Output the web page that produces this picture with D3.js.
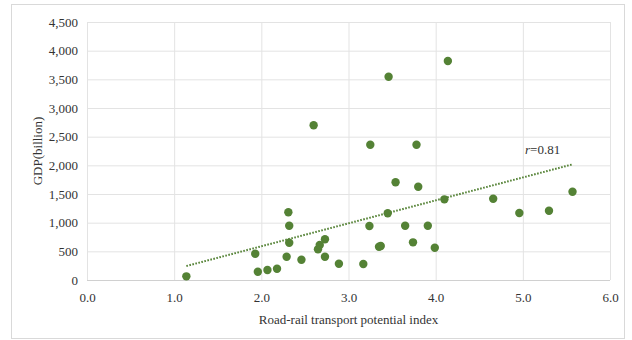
<!DOCTYPE html>
<html>
<head>
<meta charset="utf-8">
<script src="https://cdn.jsdelivr.net/npm/d3@7"></script>
<style>
  body { margin: 0; background: #fff; }
  text { font-family: "Liberation Serif", "Times New Roman", serif; fill: #333; }
</style>
</head>
<body>
<div id="chart"></div>
<script>
// road-rail index vs GDP, one entry per region
let potentialIndex = [1.14, 1.93, 1.96, 2.07, 2.18, 2.29, 2.31, 2.32, 2.32, 2.46,
                      2.60, 2.65, 2.67, 2.73, 2.73, 2.89, 3.17, 3.24, 3.25, 3.35,
                      3.37, 3.45, 3.46, 3.54, 3.65, 3.74, 3.78, 3.80, 3.91, 3.99,
                      4.10, 4.14, 4.66, 4.96, 5.30, 5.57];
let gdpBillion     = [64, 459, 145, 174, 197, 406, 1181, 947, 651, 354,
                      2698, 535, 610, 710, 406, 284, 279, 942, 2360, 581,
                      593, 1163, 3546, 1704, 947, 657, 2360, 1627, 947, 563,
                      1407, 3819, 1418, 1168, 1209, 1540];
let xTicks = [0, 1, 2, 3, 4, 5, 6];
let yTicks = [0, 500, 1000, 1500, 2000, 2500, 3000, 3500, 4000, 4500];
let rLabel = '0.81';

let chart_width  = 632;
let chart_height = 340;
let pLeft = 87, pRight = 610, pTop = 22, pBottom = 280;
let green = '#548235';

let points = potentialIndex.map(function(v, i) {
    return { x: v, y: gdpBillion[i] };
});

let svg = d3.select('#chart')
    .append('svg')
    .attr('width', chart_width)
    .attr('height', chart_height);

// outer frame
svg.append('rect')
    .attr('x', 11.5).attr('y', 4.5)
    .attr('width', 613).attr('height', 334)
    .attr('fill', '#fff')
    .attr('stroke', '#d9d9d9');

let xScale = d3.scaleLinear().domain([0, 6]).range([pLeft, pRight]);
let yScale = d3.scaleLinear().domain([0, 4500]).range([pBottom, pTop]);

// gridlines
svg.append('g')
    .attr('transform', 'translate(0,' + pBottom + ')')
    .call(d3.axisBottom(xScale).tickValues(xTicks).tickSize(-(pBottom - pTop)).tickFormat(''))
    .call(g => g.select('.domain').remove())
    .call(g => g.selectAll('line').attr('stroke', '#e3e3e3'));

svg.append('g')
    .attr('transform', 'translate(' + pLeft + ',0)')
    .call(d3.axisLeft(yScale).tickValues(yTicks).tickSize(-(pRight - pLeft)).tickFormat(''))
    .call(g => g.select('.domain').remove())
    .call(g => g.selectAll('line').attr('stroke', d => d === 0 ? '#d0d0d0' : '#e3e3e3'));

// tick labels
svg.append('g')
    .attr('transform', 'translate(0,' + pBottom + ')')
    .call(d3.axisBottom(xScale).tickValues(xTicks).tickSize(0).tickPadding(13).tickFormat(d3.format('.1f')))
    .call(g => g.select('.domain').remove())
    .call(g => g.selectAll('text').attr('font-size', 13).attr('font-family', '"Liberation Serif", serif').attr('fill', '#404040'));

svg.append('g')
    .attr('transform', 'translate(' + pLeft + ',0)')
    .call(d3.axisLeft(yScale).tickValues(yTicks).tickSize(0).tickPadding(9).tickFormat(d3.format(',')))
    .call(g => g.select('.domain').remove())
    .call(g => g.selectAll('text').attr('font-size', 13).attr('font-family', '"Liberation Serif", serif').attr('fill', '#404040'));

// least-squares trend line
let mx = d3.mean(points, d => d.x);
let my = d3.mean(points, d => d.y);
let slope = d3.sum(points, d => (d.x - mx) * (d.y - my)) / d3.sum(points, d => (d.x - mx) * (d.x - mx));
let xr = d3.extent(points, d => d.x);
let trend = xr.map(v => ({ x: v, y: my + slope * (v - mx) }));

svg.append('path')
    .datum(trend)
    .attr('d', d3.line().x(d => xScale(d.x)).y(d => yScale(d.y)))
    .attr('fill', 'none')
    .attr('stroke', green)
    .attr('stroke-width', 2)
    .attr('stroke-dasharray', '1.6,1.5');

svg.selectAll('circle')
    .data(points)
    .enter()
    .append('circle')
    .attr('cx', d => xScale(d.x))
    .attr('cy', d => yScale(d.y))
    .attr('r', 4.2)
    .attr('fill', green);

// r label
let rt = svg.append('text')
    .attr('x', 525)
    .attr('y', 154)
    .attr('font-size', 13)
    .attr('fill', '#222');
rt.append('tspan').attr('font-style', 'italic').text('r');
rt.append('tspan').text('=' + rLabel);

// axis titles
svg.append('text')
    .attr('x', (pLeft + pRight) / 2)
    .attr('y', 324)
    .attr('text-anchor', 'middle')
    .attr('font-size', 13)
    .attr('fill', '#222')
    .text('Road-rail transport potential index');

svg.append('text')
    .attr('transform', 'translate(42,' + (pTop + pBottom) / 2 + ') rotate(-90)')
    .attr('text-anchor', 'middle')
    .attr('font-size', 13)
    .attr('fill', '#222')
    .text('GDP(billion)');
</script>
</body>
</html>
